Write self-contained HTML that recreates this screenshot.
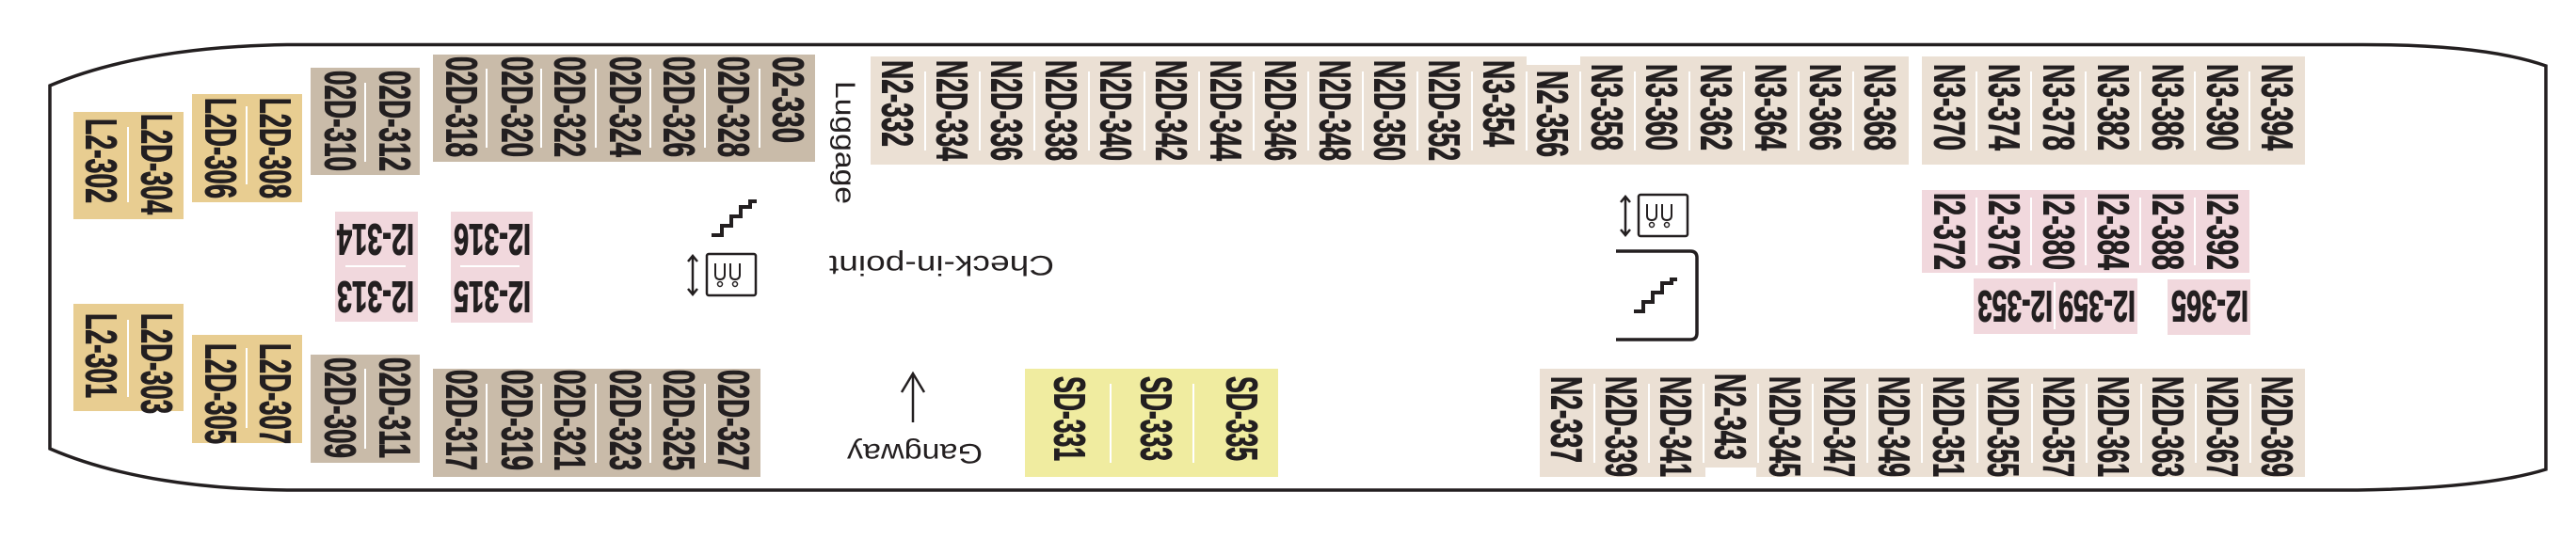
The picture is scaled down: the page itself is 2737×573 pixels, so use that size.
<!DOCTYPE html>
<html><head><meta charset="utf-8"><style>
html,body{margin:0;padding:0;background:#fff;}
svg{display:block;}
.v{font-family:"Liberation Sans Narrow","Liberation Sans",sans-serif;font-weight:bold;font-size:46px;fill:#231f20;stroke:#231f20;stroke-width:1;}
.r{font-family:"Liberation Sans",sans-serif;font-size:30px;fill:#231f20;}
</style></head><body>
<svg width="2737" height="573" viewBox="0 0 2737 573" xmlns="http://www.w3.org/2000/svg">
<path d="M305,47.5 L2505,47.5 Q2640,47 2705,70 L2705,499 Q2640,519 2505,521 L305,521 Q150,519 53,477 L53,91 Q150,50 305,47.5 Z" fill="none" stroke="#231f20" stroke-width="3.5"/>
<g>
<rect x="78" y="119" width="117" height="114" fill="#e8cd91"/>
<rect x="204" y="100" width="117" height="115" fill="#e8cd91"/>
<rect x="330" y="72" width="116" height="114" fill="#c9bba9"/>
<rect x="460" y="58" width="406" height="114" fill="#c9bba9"/>
<rect x="78" y="323" width="117" height="114" fill="#e8cd91"/>
<rect x="204" y="356" width="117" height="115" fill="#e8cd91"/>
<rect x="330" y="377" width="116" height="115" fill="#c9bba9"/>
<rect x="460" y="392" width="348" height="115" fill="#c9bba9"/>
<rect x="356" y="225" width="88" height="117" fill="#f1d8dd"/>
<rect x="479" y="225" width="87" height="118" fill="#f1d8dd"/>
<rect x="925" y="69" width="1103" height="106" fill="#ebe0d4"/>
<rect x="925" y="60" width="697" height="20" fill="#ebe0d4"/>
<rect x="1679" y="60" width="349" height="20" fill="#ebe0d4"/>
<rect x="2042" y="60" width="407" height="115" fill="#ebe0d4"/>
<rect x="2042" y="202" width="348" height="88" fill="#f1d8dd"/>
<rect x="2097" y="296" width="174" height="59" fill="#f1d8dd"/>
<rect x="2303" y="297" width="88" height="59" fill="#f1d8dd"/>
<rect x="1636" y="392" width="813" height="115" fill="#ebe0d4"/>
<rect x="1812" y="497" width="54" height="11" fill="#fff"/>
<rect x="1089" y="392" width="269" height="115" fill="#f0eca0"/>
</g>
<g stroke="#fff" stroke-width="2">
<line x1="136" y1="135" x2="136" y2="215"/><line x1="262" y1="113" x2="262" y2="196"/><line x1="388" y1="88" x2="388" y2="172"/>
<line x1="136" y1="340" x2="136" y2="422"/><line x1="262" y1="370" x2="262" y2="455"/><line x1="388" y1="392" x2="388" y2="477"/>
<line x1="517" y1="73" x2="517" y2="157"/><line x1="575" y1="73" x2="575" y2="157"/><line x1="633" y1="73" x2="633" y2="157"/><line x1="691" y1="73" x2="691" y2="157"/><line x1="749" y1="73" x2="749" y2="157"/><line x1="807" y1="73" x2="807" y2="157"/>
<line x1="517" y1="408" x2="517" y2="492"/><line x1="575" y1="408" x2="575" y2="492"/><line x1="633" y1="408" x2="633" y2="492"/><line x1="691" y1="408" x2="691" y2="492"/><line x1="749" y1="408" x2="749" y2="492"/>
<line x1="367" y1="283" x2="431" y2="283"/><line x1="489" y1="283" x2="552" y2="283"/>
<line x1="983" y1="76" x2="983" y2="160"/><line x1="1041" y1="76" x2="1041" y2="160"/><line x1="1099" y1="76" x2="1099" y2="160"/><line x1="1157" y1="76" x2="1157" y2="160"/><line x1="1216" y1="76" x2="1216" y2="160"/><line x1="1274" y1="76" x2="1274" y2="160"/><line x1="1332" y1="76" x2="1332" y2="160"/><line x1="1390" y1="76" x2="1390" y2="160"/><line x1="1448" y1="76" x2="1448" y2="160"/><line x1="1506" y1="76" x2="1506" y2="160"/><line x1="1564" y1="76" x2="1564" y2="160"/><line x1="1622" y1="76" x2="1622" y2="160"/><line x1="1679" y1="76" x2="1679" y2="160"/><line x1="1737" y1="76" x2="1737" y2="160"/><line x1="1795" y1="76" x2="1795" y2="160"/><line x1="1853" y1="76" x2="1853" y2="160"/><line x1="1911" y1="76" x2="1911" y2="160"/><line x1="1969" y1="76" x2="1969" y2="160"/>
<line x1="2100" y1="76" x2="2100" y2="160"/><line x1="2158" y1="76" x2="2158" y2="160"/><line x1="2216" y1="76" x2="2216" y2="160"/><line x1="2274" y1="76" x2="2274" y2="160"/><line x1="2332" y1="76" x2="2332" y2="160"/><line x1="2390" y1="76" x2="2390" y2="160"/>
<line x1="2100" y1="210" x2="2100" y2="282"/><line x1="2158" y1="210" x2="2158" y2="282"/><line x1="2216" y1="210" x2="2216" y2="282"/><line x1="2274" y1="210" x2="2274" y2="282"/><line x1="2332" y1="210" x2="2332" y2="282"/>
<line x1="2183" y1="300" x2="2183" y2="350"/>
<line x1="1694" y1="408" x2="1694" y2="492"/><line x1="1752" y1="408" x2="1752" y2="492"/><line x1="1810" y1="408" x2="1810" y2="492"/><line x1="1868" y1="408" x2="1868" y2="492"/><line x1="1926" y1="408" x2="1926" y2="492"/><line x1="1984" y1="408" x2="1984" y2="492"/><line x1="2042" y1="408" x2="2042" y2="492"/><line x1="2101" y1="408" x2="2101" y2="492"/><line x1="2159" y1="408" x2="2159" y2="492"/><line x1="2217" y1="408" x2="2217" y2="492"/><line x1="2275" y1="408" x2="2275" y2="492"/><line x1="2333" y1="408" x2="2333" y2="492"/><line x1="2391" y1="408" x2="2391" y2="492"/>
<line x1="1180" y1="408" x2="1180" y2="492"/><line x1="1268" y1="408" x2="1268" y2="492"/>
</g>
<g>
<text class="v" lengthAdjust="spacingAndGlyphs" textLength="90" transform="translate(91.5,126) rotate(90)">L2-302</text>
<text class="v" lengthAdjust="spacingAndGlyphs" textLength="107" transform="translate(150.5,121) rotate(90)">L2D-304</text>
<text class="v" lengthAdjust="spacingAndGlyphs" textLength="107" transform="translate(218.5,104) rotate(90)">L2D-306</text>
<text class="v" lengthAdjust="spacingAndGlyphs" textLength="107" transform="translate(276.5,104) rotate(90)">L2D-308</text>
<text class="v" lengthAdjust="spacingAndGlyphs" textLength="107" transform="translate(345.5,75) rotate(90)">02D-310</text>
<text class="v" lengthAdjust="spacingAndGlyphs" textLength="107" transform="translate(403.5,75) rotate(90)">02D-312</text>
<text class="v" lengthAdjust="spacingAndGlyphs" textLength="107" transform="translate(474.5,60) rotate(90)">02D-318</text>
<text class="v" lengthAdjust="spacingAndGlyphs" textLength="107" transform="translate(533.5,60) rotate(90)">02D-320</text>
<text class="v" lengthAdjust="spacingAndGlyphs" textLength="107" transform="translate(589.5,60) rotate(90)">02D-322</text>
<text class="v" lengthAdjust="spacingAndGlyphs" textLength="107" transform="translate(648.5,60) rotate(90)">02D-324</text>
<text class="v" lengthAdjust="spacingAndGlyphs" textLength="107" transform="translate(705.5,60) rotate(90)">02D-326</text>
<text class="v" lengthAdjust="spacingAndGlyphs" textLength="107" transform="translate(763.5,60) rotate(90)">02D-328</text>
<text class="v" lengthAdjust="spacingAndGlyphs" textLength="92" transform="translate(821.5,60) rotate(90)">02-330</text>

<text class="v" lengthAdjust="spacingAndGlyphs" textLength="90" transform="translate(91.5,333) rotate(90)">L2-301</text>
<text class="v" lengthAdjust="spacingAndGlyphs" textLength="107" transform="translate(150.5,333) rotate(90)">L2D-303</text>
<text class="v" lengthAdjust="spacingAndGlyphs" textLength="107" transform="translate(218.5,365) rotate(90)">L2D-305</text>
<text class="v" lengthAdjust="spacingAndGlyphs" textLength="107" transform="translate(276.5,365) rotate(90)">L2D-307</text>
<text class="v" lengthAdjust="spacingAndGlyphs" textLength="107" transform="translate(345.5,380) rotate(90)">02D-309</text>
<text class="v" lengthAdjust="spacingAndGlyphs" textLength="107" transform="translate(403.5,380) rotate(90)">02D-311</text>
<text class="v" lengthAdjust="spacingAndGlyphs" textLength="107" transform="translate(474.5,393) rotate(90)">02D-317</text>
<text class="v" lengthAdjust="spacingAndGlyphs" textLength="107" transform="translate(533.5,393) rotate(90)">02D-319</text>
<text class="v" lengthAdjust="spacingAndGlyphs" textLength="107" transform="translate(589.5,393) rotate(90)">02D-321</text>
<text class="v" lengthAdjust="spacingAndGlyphs" textLength="107" transform="translate(648.5,393) rotate(90)">02D-323</text>
<text class="v" lengthAdjust="spacingAndGlyphs" textLength="107" transform="translate(705.5,393) rotate(90)">02D-325</text>
<text class="v" lengthAdjust="spacingAndGlyphs" textLength="107" transform="translate(763.5,393) rotate(90)">02D-327</text>

<text class="v" lengthAdjust="spacingAndGlyphs" textLength="92" transform="translate(937.5,64) rotate(90)">N2-332</text>
<text class="v" lengthAdjust="spacingAndGlyphs" textLength="107" transform="translate(995.5,64) rotate(90)">N2D-334</text>
<text class="v" lengthAdjust="spacingAndGlyphs" textLength="107" transform="translate(1053.5,64) rotate(90)">N2D-336</text>
<text class="v" lengthAdjust="spacingAndGlyphs" textLength="107" transform="translate(1111.5,64) rotate(90)">N2D-338</text>
<text class="v" lengthAdjust="spacingAndGlyphs" textLength="107" transform="translate(1169.5,64) rotate(90)">N2D-340</text>
<text class="v" lengthAdjust="spacingAndGlyphs" textLength="107" transform="translate(1228.5,64) rotate(90)">N2D-342</text>
<text class="v" lengthAdjust="spacingAndGlyphs" textLength="107" transform="translate(1286.5,64) rotate(90)">N2D-344</text>
<text class="v" lengthAdjust="spacingAndGlyphs" textLength="107" transform="translate(1344.5,64) rotate(90)">N2D-346</text>
<text class="v" lengthAdjust="spacingAndGlyphs" textLength="107" transform="translate(1402.5,64) rotate(90)">N2D-348</text>
<text class="v" lengthAdjust="spacingAndGlyphs" textLength="107" transform="translate(1460.5,64) rotate(90)">N2D-350</text>
<text class="v" lengthAdjust="spacingAndGlyphs" textLength="107" transform="translate(1518.5,64) rotate(90)">N2D-352</text>
<text class="v" lengthAdjust="spacingAndGlyphs" textLength="92" transform="translate(1576.5,64) rotate(90)">N3-354</text>
<text class="v" lengthAdjust="spacingAndGlyphs" textLength="92" transform="translate(1633.5,75) rotate(90)">N2-356</text>
<text class="v" lengthAdjust="spacingAndGlyphs" textLength="92" transform="translate(1691.5,68) rotate(90)">N3-358</text>
<text class="v" lengthAdjust="spacingAndGlyphs" textLength="92" transform="translate(1749.5,68) rotate(90)">N3-360</text>
<text class="v" lengthAdjust="spacingAndGlyphs" textLength="92" transform="translate(1807.5,68) rotate(90)">N3-362</text>
<text class="v" lengthAdjust="spacingAndGlyphs" textLength="92" transform="translate(1865.5,68) rotate(90)">N3-364</text>
<text class="v" lengthAdjust="spacingAndGlyphs" textLength="92" transform="translate(1923.5,68) rotate(90)">N3-366</text>
<text class="v" lengthAdjust="spacingAndGlyphs" textLength="92" transform="translate(1981.5,68) rotate(90)">N3-368</text>

<text class="v" lengthAdjust="spacingAndGlyphs" textLength="92" transform="translate(2055.5,68) rotate(90)">N3-370</text>
<text class="v" lengthAdjust="spacingAndGlyphs" textLength="92" transform="translate(2113.5,68) rotate(90)">N3-374</text>
<text class="v" lengthAdjust="spacingAndGlyphs" textLength="92" transform="translate(2171.5,68) rotate(90)">N3-378</text>
<text class="v" lengthAdjust="spacingAndGlyphs" textLength="92" transform="translate(2229.5,68) rotate(90)">N3-382</text>
<text class="v" lengthAdjust="spacingAndGlyphs" textLength="92" transform="translate(2287.5,68) rotate(90)">N3-386</text>
<text class="v" lengthAdjust="spacingAndGlyphs" textLength="92" transform="translate(2345.5,68) rotate(90)">N3-390</text>
<text class="v" lengthAdjust="spacingAndGlyphs" textLength="92" transform="translate(2403.5,68) rotate(90)">N3-394</text>

<text class="v" lengthAdjust="spacingAndGlyphs" textLength="82" transform="translate(2055.5,205) rotate(90)">I2-372</text>
<text class="v" lengthAdjust="spacingAndGlyphs" textLength="82" transform="translate(2113.5,205) rotate(90)">I2-376</text>
<text class="v" lengthAdjust="spacingAndGlyphs" textLength="82" transform="translate(2171.5,205) rotate(90)">I2-380</text>
<text class="v" lengthAdjust="spacingAndGlyphs" textLength="82" transform="translate(2229.5,205) rotate(90)">I2-384</text>
<text class="v" lengthAdjust="spacingAndGlyphs" textLength="82" transform="translate(2287.5,205) rotate(90)">I2-388</text>
<text class="v" lengthAdjust="spacingAndGlyphs" textLength="82" transform="translate(2345.5,205) rotate(90)">I2-392</text>

<text class="v" lengthAdjust="spacingAndGlyphs" textLength="92" transform="translate(1648.5,400) rotate(90)">N2-337</text>
<text class="v" lengthAdjust="spacingAndGlyphs" textLength="107" transform="translate(1706.5,400) rotate(90)">N2D-339</text>
<text class="v" lengthAdjust="spacingAndGlyphs" textLength="107" transform="translate(1764.5,400) rotate(90)">N2D-341</text>
<text class="v" lengthAdjust="spacingAndGlyphs" textLength="92" transform="translate(1822.5,397) rotate(90)">N2-343</text>
<text class="v" lengthAdjust="spacingAndGlyphs" textLength="107" transform="translate(1880.5,400) rotate(90)">N2D-345</text>
<text class="v" lengthAdjust="spacingAndGlyphs" textLength="107" transform="translate(1938.5,400) rotate(90)">N2D-347</text>
<text class="v" lengthAdjust="spacingAndGlyphs" textLength="107" transform="translate(1996.5,400) rotate(90)">N2D-349</text>
<text class="v" lengthAdjust="spacingAndGlyphs" textLength="107" transform="translate(2054.5,400) rotate(90)">N2D-351</text>
<text class="v" lengthAdjust="spacingAndGlyphs" textLength="107" transform="translate(2112.5,400) rotate(90)">N2D-355</text>
<text class="v" lengthAdjust="spacingAndGlyphs" textLength="107" transform="translate(2171.5,400) rotate(90)">N2D-357</text>
<text class="v" lengthAdjust="spacingAndGlyphs" textLength="107" transform="translate(2229.5,400) rotate(90)">N2D-361</text>
<text class="v" lengthAdjust="spacingAndGlyphs" textLength="107" transform="translate(2287.5,400) rotate(90)">N2D-363</text>
<text class="v" lengthAdjust="spacingAndGlyphs" textLength="107" transform="translate(2345.5,400) rotate(90)">N2D-367</text>
<text class="v" lengthAdjust="spacingAndGlyphs" textLength="107" transform="translate(2403.5,400) rotate(90)">N2D-369</text>

<text class="v" lengthAdjust="spacingAndGlyphs" textLength="90" transform="translate(1120.5,400) rotate(90)">SD-331</text>
<text class="v" lengthAdjust="spacingAndGlyphs" textLength="90" transform="translate(1212.5,400) rotate(90)">SD-333</text>
<text class="v" lengthAdjust="spacingAndGlyphs" textLength="90" transform="translate(1303.5,400) rotate(90)">SD-335</text>

<text class="v" lengthAdjust="spacingAndGlyphs" textLength="82" text-anchor="middle" x="0" y="16.5" transform="translate(399,255) rotate(180)">I2-314</text>
<text class="v" lengthAdjust="spacingAndGlyphs" textLength="82" text-anchor="middle" x="0" y="16.5" transform="translate(399,316) rotate(180)">I2-313</text>
<text class="v" lengthAdjust="spacingAndGlyphs" textLength="82" text-anchor="middle" x="0" y="16.5" transform="translate(523,255) rotate(180)">I2-316</text>
<text class="v" lengthAdjust="spacingAndGlyphs" textLength="82" text-anchor="middle" x="0" y="16.5" transform="translate(523,316) rotate(180)">I2-315</text>
<text class="v" lengthAdjust="spacingAndGlyphs" textLength="80" text-anchor="middle" x="0" y="16.5" transform="translate(2141,326) rotate(180)">I2-353</text>
<text class="v" lengthAdjust="spacingAndGlyphs" textLength="82" text-anchor="middle" x="0" y="16.5" transform="translate(2228,326) rotate(180)">I2-359</text>
<text class="v" lengthAdjust="spacingAndGlyphs" textLength="82" text-anchor="middle" x="0" y="16.5" transform="translate(2348,326) rotate(180)">I2-365</text>
</g>
<text class="r" lengthAdjust="spacingAndGlyphs" textLength="131" transform="translate(888,86) rotate(90)">Luggage</text>
<text class="r" lengthAdjust="spacingAndGlyphs" textLength="239" text-anchor="middle" x="0" y="11" transform="translate(1000.5,283) rotate(180)">Check-in-point</text>
<text class="r" lengthAdjust="spacingAndGlyphs" textLength="144" text-anchor="middle" x="0" y="11" transform="translate(972,483) rotate(180)">Gangway</text>
<g fill="none" stroke="#231f20" stroke-width="2.5">
<line x1="970" y1="397" x2="970" y2="449"/>
<polyline points="958,417 970,397 982,417"/>
</g>
<g fill="none" stroke="#231f20" stroke-width="4">
<polyline points="756,250 767,250 767,240 777,240 777,230 787,230 787,220 797,220 797,214 804,214"/>
<polyline points="1736,331 1746,331 1746,321 1756,321 1756,311 1766,311 1766,301 1776,301 1776,297 1782,297"/>
<path d="M1717,267 L1796,267 Q1803,267 1803,274 L1803,354 Q1803,361 1796,361 L1717,361" stroke-width="3.5"/>
</g>
<g fill="none" stroke="#231f20" stroke-width="2.5">
<rect x="751" y="270" width="52" height="44" rx="2"/>
<line x1="736" y1="272" x2="736" y2="313"/>
<polyline points="731,278 736,272 741,278"/><polyline points="731,307 736,313 741,307"/>
<path d="M760,280 v12 q0,5 5,5 q5,0 5,-5 v-12 M776,280 v12 q0,5 5,5 q5,0 5,-5 v-12" stroke-width="2"/>
<circle cx="765" cy="302" r="2.5" stroke-width="1.5"/><circle cx="781" cy="302" r="2.5" stroke-width="1.5"/>
<rect x="1741" y="207" width="52" height="44" rx="2"/>
<line x1="1727" y1="209" x2="1727" y2="250"/>
<polyline points="1722,215 1727,209 1732,215"/><polyline points="1722,244 1727,250 1732,244"/>
<path d="M1750,217 v12 q0,5 5,5 q5,0 5,-5 v-12 M1766,217 v12 q0,5 5,5 q5,0 5,-5 v-12" stroke-width="2"/>
<circle cx="1755" cy="239" r="2.5" stroke-width="1.5"/><circle cx="1771" cy="239" r="2.5" stroke-width="1.5"/>
</g>
</svg>
</body></html>
